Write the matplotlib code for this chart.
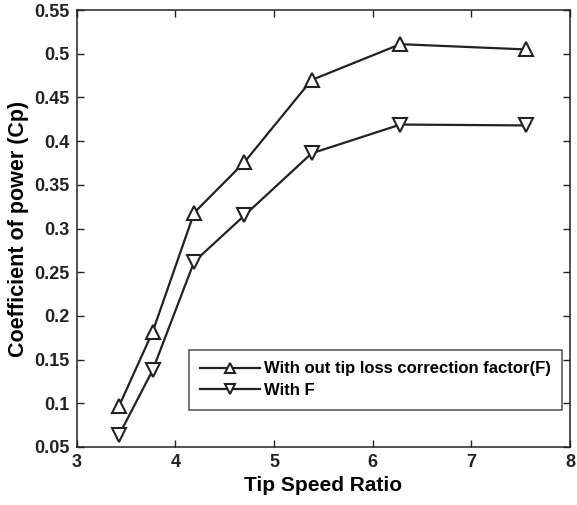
import matplotlib
matplotlib.use("Agg")
import matplotlib.pyplot as plt

plt.rcParams['font.family'] = ['Liberation Sans', 'DejaVu Sans']
plt.rcParams['font.weight'] = 'bold'

tsr = [3.43, 3.77, 4.19, 4.70, 5.38, 6.28, 7.55]
cp_no_f = [0.097, 0.182, 0.318, 0.376, 0.470, 0.511, 0.505]
cp_with_f = [0.064, 0.138, 0.262, 0.315, 0.386, 0.419, 0.418]

fig = plt.figure(figsize=(5.77, 5.05), dpi=100)
ax = fig.add_axes([0.133, 0.115, 0.855, 0.865])

ax.plot(tsr, cp_no_f, color='#222222', lw=1.6, marker='^', ms=10.5,
        mfc='white', mec='#222222', mew=1.5,
        label='With out tip loss correction factor(F)')
ax.plot(tsr, cp_with_f, color='#222222', lw=1.6, marker='v', ms=10.5,
        mfc='white', mec='#222222', mew=1.5, label='With F')

ax.set_xlim(3, 8)
ax.set_ylim(0.05, 0.55)
ax.set_xticks([3, 4, 5, 6, 7, 8])
ax.set_yticks([0.05, 0.1, 0.15, 0.2, 0.25, 0.3, 0.35, 0.4, 0.45, 0.5, 0.55])
ax.set_yticklabels(['0.05', '0.1', '0.15', '0.2', '0.25', '0.3', '0.35',
                    '0.4', '0.45', '0.5', '0.55'])
ax.tick_params(direction='in', top=True, right=True, labelsize=13,
               length=5, width=1, colors='#222222', pad=5)
for s in ax.spines.values():
    s.set_linewidth(1.1)
    s.set_color('#222222')

ax.set_xlabel('Tip Speed Ratio', fontsize=15, fontweight='bold', labelpad=4)
ax.set_ylabel('Coefficient of power (Cp)', fontsize=15.5, fontweight='bold', labelpad=4)

leg = ax.legend(loc='lower right', bbox_to_anchor=(0.984, 0.085), fontsize=12,
                frameon=True, fancybox=False, edgecolor='#222222',
                handlelength=3.6, handletextpad=0.2, borderpad=0.7,
                labelspacing=0.4, borderaxespad=0, markerscale=0.75)
leg.get_frame().set_linewidth(1.1)

fig.savefig('out.png', dpi=100)
